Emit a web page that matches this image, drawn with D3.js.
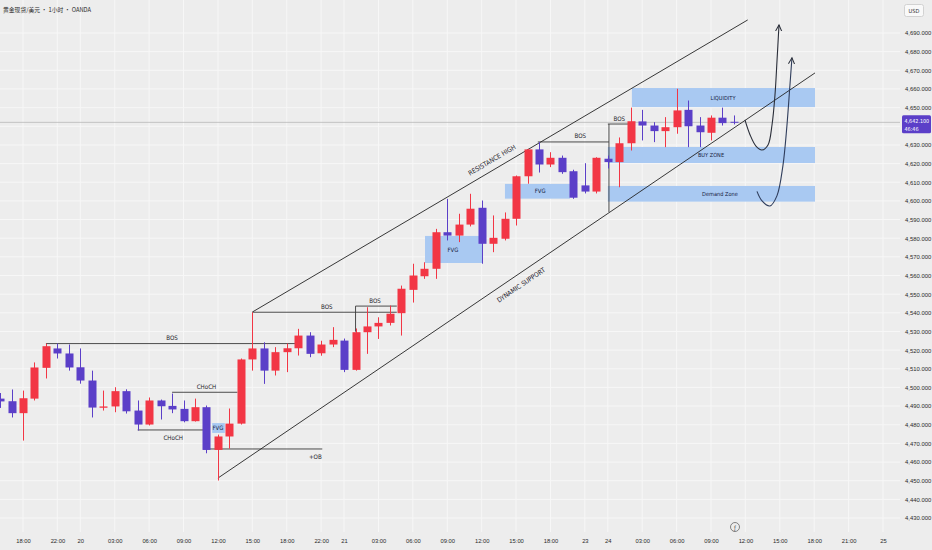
<!DOCTYPE html>
<html><head><meta charset="utf-8">
<script src="https://cdn.jsdelivr.net/npm/d3@7"></script>
<style>
body{margin:0;background:#ededed;}
svg{display:block;font-family:"Liberation Sans Narrow","DejaVu Sans Condensed","Liberation Sans",Arial,sans-serif;}
</style></head><body>
<svg id="c" width="932" height="550"></svg>
<script>
// ---------- DATA ----------
const title = "黄金现货/美元 • 1小时 • OANDA";
const slots = d3.range(-2, 63);
const opens  = [4494.0,4492.6,4486.2,4494.0,4510.5,4520.9,4518.2,4510.8,4503.7,4489.1,4489.8,4498.0,4487.6,4480.1,4493.0,4490.1,4488.5,4481.9,4489.4,4466.5,4473.7,4480.6,4515.0,4520.9,4509.0,4518.9,4521.0,4527.8,4518.3,4523.0,4525.1,4509.4,4529.6,4532.7,4534.6,4539.8,4552.3,4559.6,4563.6,4583.2,4581.4,4587.3,4596.3,4577.0,4579.7,4590.4,4613.2,4627.6,4619.5,4623.1,4615.9,4608.3,4605.0,4622.6,4620.8,4630.9,4642.6,4640.4,4637.4,4639.5,4648.8,4640.4,4636.5,4644.6,4642.4];
const highs  = [4497.0,4498.9,4498.3,4513.4,4523.5,4523.5,4523.0,4520.9,4509.0,4498.3,4500.1,4499.0,4493.0,4494.6,4493.5,4496.7,4493.0,4494.0,4490.3,4474.7,4488.7,4515.5,4540.2,4524.2,4521.6,4523.5,4531.4,4529.6,4525.0,4532.3,4526.2,4531.6,4543.0,4537.6,4543.9,4554.6,4566.3,4567.1,4585.0,4601.1,4593.1,4603.8,4600.2,4592.2,4593.8,4613.6,4627.9,4631.5,4626.1,4624.3,4616.7,4620.2,4623.4,4624.3,4634.0,4650.0,4648.8,4642.2,4644.9,4660.1,4653.8,4644.9,4645.8,4650.0,4645.8];
const lows   = [4489.0,4483.9,4471.5,4493.0,4504.8,4515.5,4509.0,4502.0,4483.9,4487.6,4486.7,4486.0,4476.9,4479.6,4482.8,4486.2,4481.3,4481.7,4464.7,4450.1,4467.2,4480.1,4509.0,4501.9,4506.4,4508.2,4517.1,4516.2,4517.0,4521.6,4508.2,4509.0,4518.0,4526.0,4533.2,4527.8,4545.5,4558.2,4558.2,4578.8,4577.9,4586.3,4566.3,4572.5,4578.8,4586.8,4609.2,4615.2,4618.1,4614.5,4601.1,4604.0,4604.0,4617.4,4607.3,4627.0,4632.4,4631.5,4628.8,4636.0,4628.8,4628.8,4632.4,4640.4,4641.0];
const closes = [4492.5,4486.2,4494.2,4510.7,4522.1,4518.2,4510.7,4503.7,4489.2,4489.8,4498.0,4487.2,4480.1,4493.0,4489.9,4488.2,4481.9,4489.4,4466.5,4473.7,4480.6,4515.0,4520.9,4509.0,4518.9,4521.0,4527.8,4518.0,4523.0,4525.5,4509.4,4529.6,4532.7,4534.6,4539.5,4552.9,4560.0,4563.6,4583.2,4581.4,4587.3,4595.8,4577.0,4580.2,4590.4,4613.2,4627.6,4619.5,4623.1,4615.4,4601.7,4605.0,4623.1,4620.8,4630.9,4642.7,4640.4,4637.4,4639.5,4648.5,4640.0,4636.8,4644.6,4641.7,4642.1];
const gridPrices = d3.range(4430, 4691, 10);
const priceTicks = gridPrices.filter(p => p !== 4640); // 4,640 is hidden under the last-price tag
const timeTickSlots  = [0,3,5,8,11,14,17,20,23,26,28,31,34,37,40,43,46,49,51,54,57,60,63,66,69,72,75];
const timeTickLabels = ["18:00","22:00","20","03:00","06:00","09:00","12:00","15:00","18:00","22:00","21","03:00","06:00","09:00","12:00","15:00","18:00","23","24","03:00","06:00","09:00","12:00","15:00","18:00","21:00","25"];
const lastPrice = 4642.1, lastLabel = "4,642.100", countdown = "46:46";
// zones: [slot0, slot1, priceTop, priceBottom, label, labelSlot]
const zones = [
  [35.06,40.03,4581.2,4566.7,"FVG",37.5],
  [42.03,47.7,4609.1,4601.2,"FVG",45.1],
  [16.5,17.6,4480.9,4475.6,"FVG",17.0],
  [53.1,69.07,4660.5,4650.3,"LIQUIDITY",61.05],
  [51.0,69.07,4628.9,4620.3,"BUY ZONE",60.0],
  [51.0,69.07,4608.0,4599.6,"Demand Zone",60.78]
];
// horizontal structure lines: [slot0, slot1, price, label, labelSlot, labelAbove]
const levels = [
  [2,24,4523.5,"BOS",13,true],
  [13,18.7,4497.4,"CHoCH",16,true],
  [10,15.7,4477.2,"CHoCH",13.1,false],
  [15.7,26.1,4467.0,"+OB",25.5,false],
  [20,32.6,4540.3,"BOS",26.5,true],
  [29,32.6,4543.6,"BOS",30.7,true],
  [44.9,51.1,4631.6,"BOS",48.6,true],
  [51,52.8,4641.2,"BOS",52,true]
];
// vertical connector lines: [slot, priceTop, priceBottom]
const verticals = [[29,4543.6,4529.9],[51.1,4641.2,4594.0]];
const resistance = [[20,4540.4],[63.2,4697.0]];
const support = [[17,4451.4],[69.07,4668.6]];
const arrow1 = [[62.96,4643.4],[63.4,4635.5],[63.92,4629.4],[64.45,4627.3],[64.97,4630.0],[65.32,4640.7],[65.58,4656.8],[65.76,4675.5],[65.93,4694.3]];
const arrow2 = [[64.01,4605.1],[64.45,4600.0],[65.14,4597.3],[65.75,4602.7],[66.27,4618.8],[66.62,4640.2],[66.88,4661.7],[67.06,4676.7]];

// ---------- SCALES ----------
const svg = d3.select("#c");
const x = d3.scaleLinear().domain([0,75]).range([23,883]);
const y = d3.scaleLinear().domain([4430,4690]).range([518,33]);
const bull = "#f23645", bear = "#5b3fc8", zoneFill = "#a9c9f2", ink = "#1f232c";

svg.append("rect").attr("width",932).attr("height",550).attr("fill","#ededed");

// grid
const grid = svg.append("g").attr("stroke","#f7f7f7").attr("stroke-width",1);
grid.selectAll(".v").data(timeTickSlots).join("line")
  .attr("x1",d=>x(d)).attr("x2",d=>x(d)).attr("y1",0).attr("y2",532);
grid.selectAll(".h").data(gridPrices).join("line")
  .attr("x1",0).attr("x2",900).attr("y1",d=>y(d)).attr("y2",d=>y(d));

// zones
const zg = svg.append("g");
zones.forEach(z=>{
  zg.append("rect").attr("x",x(z[0])).attr("width",x(z[1])-x(z[0]))
    .attr("y",y(z[2])).attr("height",y(z[3])-y(z[2])).attr("fill",zoneFill);
});

// current price line
svg.append("line").attr("x1",0).attr("x2",900).attr("y1",y(lastPrice)).attr("y2",y(lastPrice))
  .attr("stroke","#b9b9b9").attr("stroke-width",0.8);

// structure lines
const lg = svg.append("g");
levels.forEach(l=>{
  lg.append("line").attr("x1",x(l[0])).attr("x2",x(l[1])).attr("y1",y(l[2])).attr("y2",y(l[2]))
    .attr("stroke","#3a3a3a").attr("stroke-width",0.9);
});
verticals.forEach(v=>{
  lg.append("line").attr("x1",x(v[0])).attr("x2",x(v[0])).attr("y1",y(v[1])).attr("y2",y(v[2]))
    .attr("stroke","#3a3a3a").attr("stroke-width",0.9);
});

// channel lines
const line = d3.line().x(d=>x(d[0])).y(d=>y(d[1]));
svg.append("path").attr("d",line(resistance)).attr("stroke","#222").attr("stroke-width",0.9).attr("fill","none");
svg.append("path").attr("d",line(support)).attr("stroke","#222").attr("stroke-width",0.9).attr("fill","none");

// candles
const cw = 8;
const cg = svg.append("g");
slots.forEach((s,i)=>{
  const up = closes[i] >= opens[i];
  const col = up ? bull : bear;
  const cx = Math.round(x(s)) + 0.5;
  cg.append("line").attr("x1",cx).attr("x2",cx).attr("y1",y(highs[i])).attr("y2",y(lows[i]))
    .attr("stroke",col).attr("stroke-width",1);
  const top = y(Math.max(opens[i],closes[i])), bot = y(Math.min(opens[i],closes[i]));
  cg.append("rect").attr("x",cx-cw/2).attr("width",cw).attr("y",top).attr("height",Math.max(1,bot-top)).attr("fill",col);
});

// labels on top
const tg = svg.append("g");
zones.forEach(z=>{
  tg.append("text").attr("x",x(z[5])).attr("y",(y(z[2])+y(z[3]))/2).attr("dy","0.35em")
    .attr("text-anchor","middle").attr("font-size",z[4]==="FVG"?6:5.6).attr("fill","#17213f").text(z[4]);
});
levels.forEach(l=>{
  tg.append("text").attr("x",x(l[4])).attr("y",y(l[2]) + (l[5]?-3.5:7.5)).attr("text-anchor","middle")
    .attr("font-size",6.2).attr("fill",ink).attr("dy",l[5]?"0":"0.35em").text(l[3]);
});
function angleOf(seg){const dx=x(seg[1][0])-x(seg[0][0]), dy=y(seg[1][1])-y(seg[0][1]); return Math.atan2(dy,dx)*180/Math.PI;}
tg.append("text").attr("transform",`translate(${x(40.9)},${y(4621.9)}) rotate(${angleOf(resistance)})`)
  .attr("text-anchor","middle").attr("font-size",6.6).attr("fill",ink).attr("dy","0.35em").text("RESISTANCE HIGH");
tg.append("text").attr("transform",`translate(${x(43.43)},${y(4554.9)}) rotate(${angleOf(support)})`)
  .attr("text-anchor","middle").attr("font-size",6.6).attr("fill",ink).attr("dy","0.35em").text("DYNAMIC SUPPORT");

// arrows
const defs = svg.append("defs");
defs.append("marker").attr("id","ah").attr("viewBox","0 0 10 10").attr("refX",8).attr("refY",5)
  .attr("markerWidth",7).attr("markerHeight",7).attr("orient","auto-start-reverse")
  .append("path").attr("d","M0,1 L8,5 L0,9").attr("fill","none").attr("stroke","#2a2e39").attr("stroke-width",1.3);
const curve = d3.line().x(d=>x(d[0])).y(d=>y(d[1])).curve(d3.curveCatmullRom.alpha(0.5));
svg.append("path").attr("d",curve(arrow1)).attr("fill","none").attr("stroke","#2a2e39").attr("stroke-width",1.1).attr("marker-end","url(#ah)");
svg.append("path").attr("d",curve(arrow2)).attr("fill","none").attr("stroke","#2f3d5c").attr("stroke-width",1.1).attr("marker-end","url(#ah)");

// axes
const ya = d3.axisRight(y).tickValues(priceTicks).tickFormat(d3.format(",.3f")).tickSize(0).tickPadding(4);
const yg = svg.append("g").attr("transform","translate(901,0)").call(ya);
yg.select(".domain").remove();
yg.selectAll("text").attr("font-size",5.9).attr("fill","#2a2a2a").attr("font-family",null);

const xa = d3.axisBottom(x).tickValues(timeTickSlots).tickFormat((d,i)=>timeTickLabels[i]).tickSize(0).tickPadding(3);
const xg = svg.append("g").attr("transform","translate(0,535.5)").call(xa);
xg.select(".domain").remove();
xg.selectAll("text").attr("font-size",5.8).attr("fill","#2a2a2a").attr("font-family",null);

// price tag
svg.append("rect").attr("x",902).attr("y",y(lastPrice)-7).attr("width",29).attr("height",18).attr("rx",1.5).attr("fill",bear);
svg.append("text").attr("x",904.5).attr("y",y(lastPrice)+1).attr("font-size",5.4).attr("fill","#fff").text(lastLabel);
svg.append("text").attr("x",904.5).attr("y",y(lastPrice)+8.5).attr("font-size",5.4).attr("fill","#fff").text(countdown);

// USD box
svg.append("rect").attr("x",904.5).attr("y",4.5).attr("width",19).attr("height",12).attr("rx",2).attr("fill","#f9f9f9").attr("stroke","#d2d2d2");
svg.append("text").attr("x",914).attr("y",12.6).attr("text-anchor","middle").attr("font-size",5.6).attr("fill","#333").text("USD");

// title
svg.append("text").attr("x",3).attr("y",11.5).attr("font-size",5.8).attr("fill","#2a2a2a")
  .attr("font-family","Noto Sans CJK SC, sans-serif").text(title);

// small icon
svg.append("circle").attr("cx",735).attr("cy",527).attr("r",4.5).attr("fill","none").attr("stroke","#666").attr("stroke-width",0.8);
svg.append("text").attr("x",735).attr("y",529.5).attr("text-anchor","middle").attr("font-size",6).attr("fill","#555").text("ƒ");
</script>
</body></html>
